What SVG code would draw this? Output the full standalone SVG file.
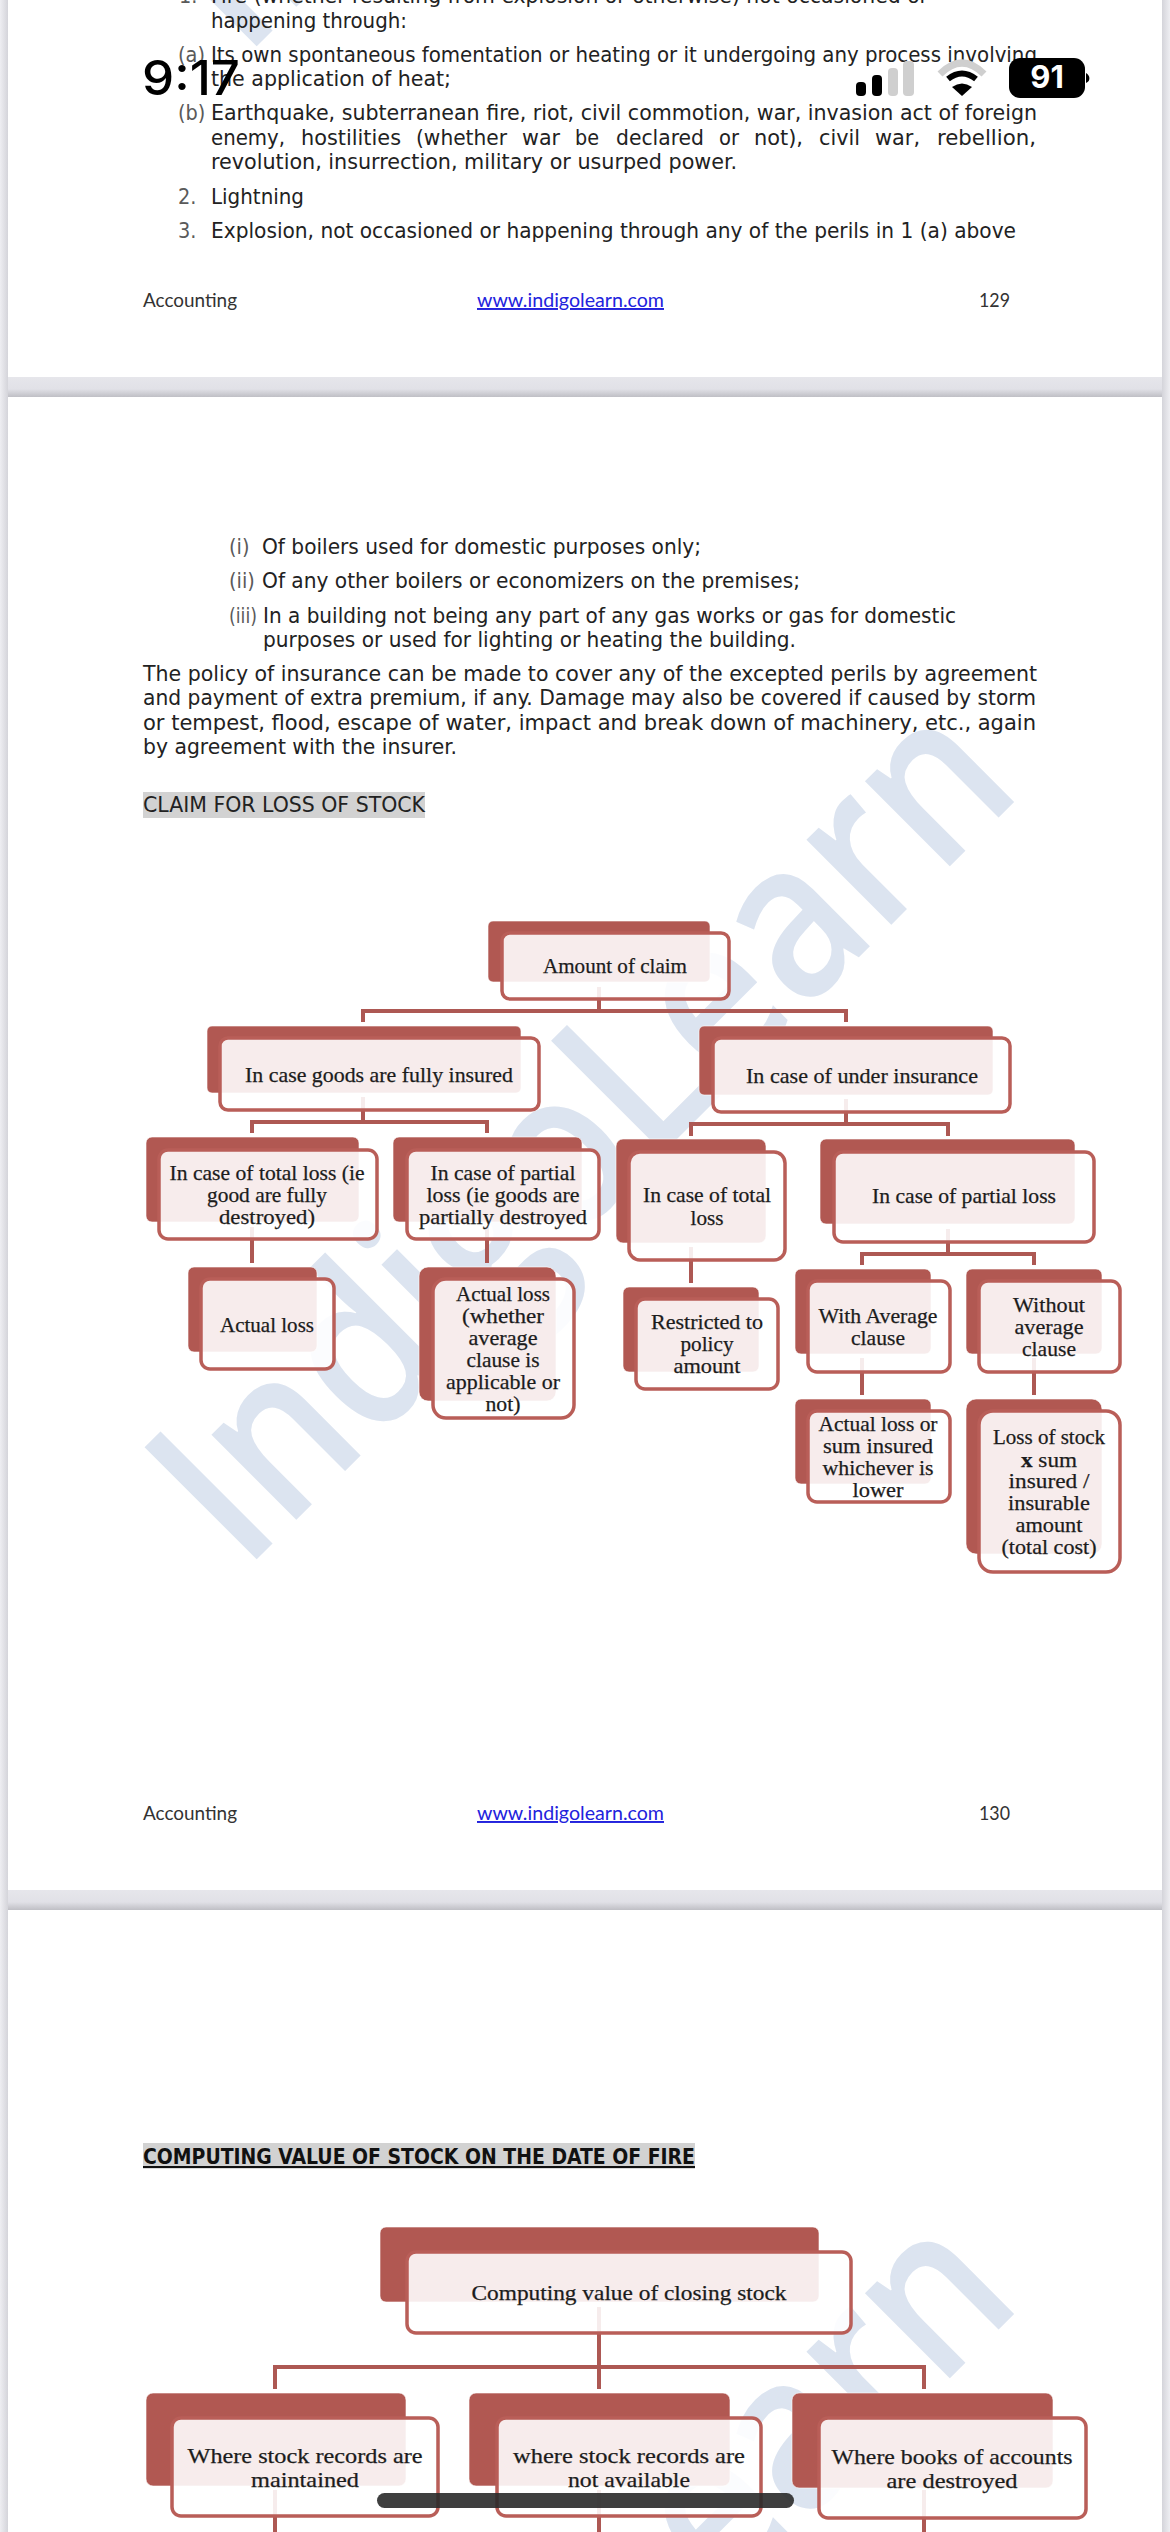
<svg xmlns="http://www.w3.org/2000/svg" width="1170" height="2532" viewBox="0 0 1170 2532">
<style>
.b{font-family:"DejaVu Sans",Tahoma,sans-serif;font-stretch:condensed;font-size:21.5px;fill:#222}
.n{fill:#5a5a5a}
.f{font-family:Lato,"Open Sans",sans-serif;font-size:19.5px;fill:#333}
.l{fill:#2222dd}
.t{font-family:"Liberation Serif",serif;font-size:21.5px;fill:#1c1c1c;stroke:#1c1c1c;stroke-width:.25;text-anchor:middle}
.bk{fill:#b15852;stroke:#fff;stroke-opacity:.6;stroke-width:1}
.fr{fill:#fff;fill-opacity:.89;stroke:#b95e58;stroke-width:3.5}
.cn{fill:none;stroke:#a94f4a;stroke-width:4;stroke-opacity:.95}
.wm{font-family:"Open Sans",sans-serif;font-size:222px;fill:#dce4f0;font-weight:600}
</style>
<defs>
<linearGradient id="gs" x1="0" y1="0" x2="0" y2="1"><stop offset="0" stop-color="#e6e6eb"/><stop offset=".6" stop-color="#e1e1e7"/><stop offset="1" stop-color="#bfbfc5"/></linearGradient>
<linearGradient id="gl" x1="0" y1="0" x2="1" y2="0"><stop offset="0" stop-color="#eeeef2"/><stop offset="1" stop-color="#d4d4da"/></linearGradient>
<linearGradient id="gr" x1="0" y1="0" x2="1" y2="0"><stop offset="0" stop-color="#d4d4da"/><stop offset="1" stop-color="#eeeef2"/></linearGradient>
<clipPath id="p1"><rect x="8" y="0" width="1154" height="377"/></clipPath>
<clipPath id="p3"><rect x="8" y="1910" width="1154" height="622"/></clipPath>
</defs>
<rect x="0" y="0" width="1170" height="2532" fill="#e6e6eb"/>
<rect x="0" y="0" width="8" height="2532" fill="url(#gl)"/>
<rect x="1162" y="0" width="8" height="2532" fill="url(#gr)"/>
<rect x="8" y="377" width="1154" height="20" fill="url(#gs)"/>
<rect x="8" y="1890" width="1154" height="20" fill="url(#gs)"/>
<rect x="8" y="-2" width="1154" height="379" fill="#fff"/>
<rect x="8" y="397" width="1154" height="1493" fill="#fff"/>
<rect x="8" y="1910" width="1154" height="624" fill="#fff"/>

<g id="watermarks">
<g clip-path="url(#p1)"><text class="wm" transform="translate(244,59) rotate(-45)" textLength="1104" lengthAdjust="spacingAndGlyphs">IndigoLearn</text></g>
<text class="wm" transform="translate(244,1572) rotate(-45)" textLength="1104" lengthAdjust="spacingAndGlyphs">IndigoLearn</text>
<g clip-path="url(#p3)"><text class="wm" transform="translate(244,3084) rotate(-45)" textLength="1104" lengthAdjust="spacingAndGlyphs">IndigoLearn</text></g>
</g>

<g id="page1-text">
<text class="b n" x="179" y="3">1.</text>
<text class="b" x="211" y="3" textLength="717" lengthAdjust="spacingAndGlyphs">Fire (whether resulting from explosion or otherwise) not occasioned or</text>
<text class="b" x="211" y="28" textLength="196" lengthAdjust="spacingAndGlyphs">happening through:</text>
<text class="b n" x="178" y="62">(a)</text>
<text class="b" x="211" y="62" textLength="826" lengthAdjust="spacingAndGlyphs">Its own spontaneous fomentation or heating or it undergoing any process involving</text>
<text class="b" x="211" y="86" textLength="240" lengthAdjust="spacingAndGlyphs">the application of heat;</text>
<text class="b n" x="178" y="120">(b)</text>
<text class="b" x="211" y="120" textLength="826" lengthAdjust="spacingAndGlyphs">Earthquake, subterranean fire, riot, civil commotion, war, invasion act of foreign</text>
<text class="b" x="211" y="145" textLength="74" lengthAdjust="spacingAndGlyphs">enemy,</text>
<text class="b" x="301" y="145" textLength="100" lengthAdjust="spacingAndGlyphs">hostilities</text>
<text class="b" x="416" y="145" textLength="91" lengthAdjust="spacingAndGlyphs">(whether</text>
<text class="b" x="522" y="145" textLength="38" lengthAdjust="spacingAndGlyphs">war</text>
<text class="b" x="575" y="145" textLength="24" lengthAdjust="spacingAndGlyphs">be</text>
<text class="b" x="616" y="145" textLength="88" lengthAdjust="spacingAndGlyphs">declared</text>
<text class="b" x="719" y="145" textLength="20" lengthAdjust="spacingAndGlyphs">or</text>
<text class="b" x="754" y="145" textLength="49" lengthAdjust="spacingAndGlyphs">not),</text>
<text class="b" x="819" y="145" textLength="41" lengthAdjust="spacingAndGlyphs">civil</text>
<text class="b" x="875" y="145" textLength="45" lengthAdjust="spacingAndGlyphs">war,</text>
<text class="b" x="937" y="145" textLength="99" lengthAdjust="spacingAndGlyphs">rebellion,</text>
<text class="b" x="211" y="169" textLength="526" lengthAdjust="spacingAndGlyphs">revolution, insurrection, military or usurped power.</text>
<text class="b n" x="178" y="204">2.</text>
<text class="b" x="211" y="204" textLength="93" lengthAdjust="spacingAndGlyphs">Lightning</text>
<text class="b n" x="178" y="238">3.</text>
<text class="b" x="211" y="238" textLength="805" lengthAdjust="spacingAndGlyphs">Explosion, not occasioned or happening through any of the perils in 1 (a) above</text>
<text class="f" x="143" y="307" textLength="94" lengthAdjust="spacingAndGlyphs">Accounting</text>
<text class="f l" x="477" y="307" textLength="187" lengthAdjust="spacingAndGlyphs" text-decoration="underline">www.indigolearn.com</text>
<text class="f" x="979" y="307" textLength="31" lengthAdjust="spacingAndGlyphs">129</text>
</g>

<g id="page2-text">
<text class="b n" x="229" y="554">(i)</text>
<text class="b" x="262" y="554" textLength="439" lengthAdjust="spacingAndGlyphs">Of boilers used for domestic purposes only;</text>
<text class="b n" x="229" y="588">(ii)</text>
<text class="b" x="262" y="588" textLength="538" lengthAdjust="spacingAndGlyphs">Of any other boilers or economizers on the premises;</text>
<text class="b n" x="229" y="623" textLength="28" lengthAdjust="spacingAndGlyphs">(iii)</text>
<text class="b" x="263" y="623" textLength="693" lengthAdjust="spacingAndGlyphs">In a building not being any part of any gas works or gas for domestic</text>
<text class="b" x="263" y="647" textLength="533" lengthAdjust="spacingAndGlyphs">purposes or used for lighting or heating the building.</text>
<text class="b" x="143" y="681" textLength="894" lengthAdjust="spacingAndGlyphs">The policy of insurance can be made to cover any of the excepted perils by agreement</text>
<text class="b" x="143" y="705" textLength="893" lengthAdjust="spacingAndGlyphs">and payment of extra premium, if any. Damage may also be covered if caused by storm</text>
<text class="b" x="143" y="730" textLength="893" lengthAdjust="spacingAndGlyphs">or tempest, flood, escape of water, impact and break down of machinery, etc., again</text>
<text class="b" x="143" y="754" textLength="314" lengthAdjust="spacingAndGlyphs">by agreement with the insurer.</text>
<rect x="143" y="792" width="282" height="26" fill="#d2d2d2"/>
<text class="b" x="143" y="812" textLength="282" lengthAdjust="spacingAndGlyphs">CLAIM FOR LOSS OF STOCK</text>
<text class="f" x="143" y="1820" textLength="94" lengthAdjust="spacingAndGlyphs">Accounting</text>
<text class="f l" x="477" y="1820" textLength="187" lengthAdjust="spacingAndGlyphs" text-decoration="underline">www.indigolearn.com</text>
<text class="f" x="979" y="1820" textLength="31" lengthAdjust="spacingAndGlyphs">130</text>
</g>

<g id="page3-heading">
<rect x="143" y="2143" width="552" height="25" fill="#d2d2d2"/>
<text class="b" x="143" y="2164" font-weight="700" textLength="552" lengthAdjust="spacingAndGlyphs" text-decoration="underline" style="fill:#111">COMPUTING VALUE OF STOCK ON THE DATE OF FIRE</text>
</g>

<g id="connectors" class="cn">
<path d="M599 987V1011M363 1022V1011H846V1022"/>
<path d="M363 1097V1122M252 1133V1122H487V1133"/>
<path d="M846 1099V1124M691 1136V1124H948V1136"/>
<path d="M252 1227V1263"/>
<path d="M487 1227V1263"/>
<path d="M691 1247V1283"/>
<path d="M948 1229V1254M862 1265V1254H1034V1265"/>
<path d="M862 1358V1395"/>
<path d="M1034 1358V1395"/>
<path d="M599 2307V2389M275 2389V2367H924V2389"/>
<path d="M275 2490V2532"/>
<path d="M599 2490V2532"/>
<path d="M924 2490V2532"/>
</g>

<g id="node-amount"><rect class="bk" x="488" y="921" width="222" height="61" rx="5"/><rect class="fr" x="502" y="933" width="227" height="66" rx="8"/><text class="t" x="615" y="973" textLength="144" lengthAdjust="spacingAndGlyphs">Amount of claim</text></g>
<g id="node-fully"><rect class="bk" x="207" y="1026" width="314" height="67" rx="5"/><rect class="fr" x="220" y="1038" width="319" height="72" rx="8"/><text class="t" x="379" y="1082" textLength="268" lengthAdjust="spacingAndGlyphs">In case goods are fully insured</text></g>
<g id="node-under"><rect class="bk" x="699" y="1026" width="294" height="69" rx="5"/><rect class="fr" x="713" y="1038" width="297" height="74" rx="8"/><text class="t" x="862" y="1083" textLength="232" lengthAdjust="spacingAndGlyphs">In case of under insurance</text></g>
<g id="node-full-total"><rect class="bk" x="146" y="1137" width="213" height="85" rx="6"/><rect class="fr" x="159" y="1150" width="218" height="89" rx="9"/>
<text class="t" x="267" y="1180" textLength="195" lengthAdjust="spacingAndGlyphs">In case of total loss (ie</text><text class="t" x="267" y="1202" textLength="120" lengthAdjust="spacingAndGlyphs">good are fully</text><text class="t" x="267" y="1224" textLength="96" lengthAdjust="spacingAndGlyphs">destroyed)</text></g>
<g id="node-full-partial"><rect class="bk" x="393" y="1137" width="189" height="85" rx="6"/><rect class="fr" x="407" y="1150" width="192" height="89" rx="9"/>
<text class="t" x="503" y="1180" textLength="145" lengthAdjust="spacingAndGlyphs">In case of partial</text><text class="t" x="503" y="1202" textLength="153" lengthAdjust="spacingAndGlyphs">loss (ie goods are</text><text class="t" x="503" y="1224" textLength="168" lengthAdjust="spacingAndGlyphs">partially destroyed</text></g>
<g id="node-under-total"><rect class="bk" x="616" y="1139" width="150" height="104" rx="7"/><rect class="fr" x="629" y="1152" width="156" height="108" rx="11"/>
<text class="t" x="707" y="1202" textLength="128" lengthAdjust="spacingAndGlyphs">In case of total</text><text class="t" x="707" y="1225" textLength="33" lengthAdjust="spacingAndGlyphs">loss</text></g>
<g id="node-under-partial"><rect class="bk" x="820" y="1139" width="255" height="85" rx="6"/><rect class="fr" x="834" y="1152" width="260" height="90" rx="9"/>
<text class="t" x="964" y="1203" textLength="184" lengthAdjust="spacingAndGlyphs">In case of partial loss</text></g>
<g id="node-actual"><rect class="bk" x="188" y="1267" width="129" height="85" rx="6"/><rect class="fr" x="201" y="1279" width="133" height="90" rx="9"/>
<text class="t" x="267" y="1332" textLength="94" lengthAdjust="spacingAndGlyphs">Actual loss</text></g>
<g id="node-actual2"><rect class="bk" x="419" y="1267" width="137" height="134" rx="9"/><rect class="fr" x="433" y="1279" width="141" height="139" rx="13"/>
<text class="t" x="503" y="1301" textLength="94" lengthAdjust="spacingAndGlyphs">Actual loss</text><text class="t" x="503" y="1323" textLength="82" lengthAdjust="spacingAndGlyphs">(whether</text><text class="t" x="503" y="1345" textLength="69" lengthAdjust="spacingAndGlyphs">average</text><text class="t" x="503" y="1367" textLength="73" lengthAdjust="spacingAndGlyphs">clause is</text><text class="t" x="503" y="1389" textLength="114" lengthAdjust="spacingAndGlyphs">applicable or</text><text class="t" x="503" y="1411" textLength="35" lengthAdjust="spacingAndGlyphs">not)</text></g>
<g id="node-restricted"><rect class="bk" x="623" y="1287" width="136" height="85" rx="6"/><rect class="fr" x="636" y="1299" width="142" height="90" rx="9"/>
<text class="t" x="707" y="1329" textLength="112" lengthAdjust="spacingAndGlyphs">Restricted to</text><text class="t" x="707" y="1351" textLength="53" lengthAdjust="spacingAndGlyphs">policy</text><text class="t" x="707" y="1373" textLength="67" lengthAdjust="spacingAndGlyphs">amount</text></g>
<g id="node-with"><rect class="bk" x="795" y="1269" width="136" height="85" rx="6"/><rect class="fr" x="808" y="1281" width="142" height="91" rx="9"/>
<text class="t" x="878" y="1323" textLength="119" lengthAdjust="spacingAndGlyphs">With Average</text><text class="t" x="878" y="1345" textLength="54" lengthAdjust="spacingAndGlyphs">clause</text></g>
<g id="node-without"><rect class="bk" x="966" y="1269" width="136" height="85" rx="6"/><rect class="fr" x="979" y="1281" width="141" height="91" rx="9"/>
<text class="t" x="1049" y="1312" textLength="72" lengthAdjust="spacingAndGlyphs">Without</text><text class="t" x="1049" y="1334" textLength="69" lengthAdjust="spacingAndGlyphs">average</text><text class="t" x="1049" y="1356" textLength="54" lengthAdjust="spacingAndGlyphs">clause</text></g>
<g id="node-lower"><rect class="bk" x="795" y="1399" width="136" height="85" rx="6"/><rect class="fr" x="808" y="1411" width="142" height="91" rx="9"/>
<text class="t" x="878" y="1431" textLength="119" lengthAdjust="spacingAndGlyphs">Actual loss or</text><text class="t" x="878" y="1453" textLength="110" lengthAdjust="spacingAndGlyphs">sum insured</text><text class="t" x="878" y="1475" textLength="111" lengthAdjust="spacingAndGlyphs">whichever is</text><text class="t" x="878" y="1497" textLength="51" lengthAdjust="spacingAndGlyphs">lower</text></g>
<g id="node-stock"><rect class="bk" x="966" y="1399" width="136" height="155" rx="10"/><rect class="fr" x="979" y="1411" width="141" height="161" rx="14"/>
<text class="t" x="1049" y="1444" textLength="112" lengthAdjust="spacingAndGlyphs">Loss of stock</text><text class="t" x="1049" y="1467" textLength="56" lengthAdjust="spacingAndGlyphs"><tspan font-weight="700">x</tspan>  sum</text><text class="t" x="1049" y="1488" textLength="81" lengthAdjust="spacingAndGlyphs">insured /</text><text class="t" x="1049" y="1510" textLength="82" lengthAdjust="spacingAndGlyphs">insurable</text><text class="t" x="1049" y="1532" textLength="67" lengthAdjust="spacingAndGlyphs">amount</text><text class="t" x="1049" y="1554" textLength="95" lengthAdjust="spacingAndGlyphs">(total cost)</text></g>

<g id="node-computing"><rect class="bk" x="380" y="2227" width="439" height="75" rx="6"/><rect class="fr" x="407" y="2252" width="444" height="81" rx="9"/><text class="t" x="629" y="2300" textLength="315" lengthAdjust="spacingAndGlyphs">Computing value of closing stock</text></g>
<g id="node-maintained"><rect class="bk" x="146" y="2393" width="260" height="93" rx="7"/><rect class="fr" x="172" y="2418" width="266" height="98" rx="9"/><text class="t" x="305" y="2463" textLength="235" lengthAdjust="spacingAndGlyphs">Where stock records are</text><text class="t" x="305" y="2487" textLength="108" lengthAdjust="spacingAndGlyphs">maintained</text></g>
<g id="node-unavailable"><rect class="bk" x="469" y="2393" width="261" height="93" rx="7"/><rect class="fr" x="497" y="2418" width="264" height="98" rx="9"/><text class="t" x="629" y="2463" textLength="232" lengthAdjust="spacingAndGlyphs">where stock records are</text><text class="t" x="629" y="2487" textLength="122" lengthAdjust="spacingAndGlyphs">not available</text></g>
<g id="node-destroyed"><rect class="bk" x="792" y="2393" width="261" height="95" rx="7"/><rect class="fr" x="819" y="2418" width="267" height="100" rx="9"/><text class="t" x="952" y="2464" textLength="241" lengthAdjust="spacingAndGlyphs">Where books of accounts</text><text class="t" x="952" y="2488" textLength="131" lengthAdjust="spacingAndGlyphs">are destroyed</text></g>

<g id="status-bar">
<text x="142" y="95" font-family="Inter,Roboto,sans-serif" font-size="48" font-weight="500" fill="#000" textLength="98" lengthAdjust="spacingAndGlyphs">9:17</text>
<rect x="856" y="82" width="10" height="14" rx="4" fill="#000"/>
<rect x="872" y="75" width="10" height="21" rx="4" fill="#000"/>
<rect x="888" y="68" width="10" height="28" rx="4" fill="#cfcfcf"/>
<rect x="903" y="61" width="11" height="35" rx="4" fill="#cfcfcf"/>
<path d="M940 74Q962 52 984 74" fill="none" stroke="#cfcfcf" stroke-width="7"/>
<path d="M948 79Q962 68 976 79" fill="none" stroke="#000" stroke-width="6"/>
<path d="M962 96L952 87Q962 80 972 87Z" fill="#000"/>
<rect x="1009" y="58" width="76" height="40" rx="11" fill="#000"/>
<path d="M1086 73C1090 75 1091 81 1086 83Z" fill="#000"/>
<text x="1047" y="88" font-family="Inter,Roboto,sans-serif" font-size="31" font-weight="700" fill="#fff" text-anchor="middle">91</text>
</g>
<rect id="home-indicator" x="377" y="2493" width="417" height="15" rx="7.5" fill="#2a2a2a" fill-opacity=".9"/>
</svg>
